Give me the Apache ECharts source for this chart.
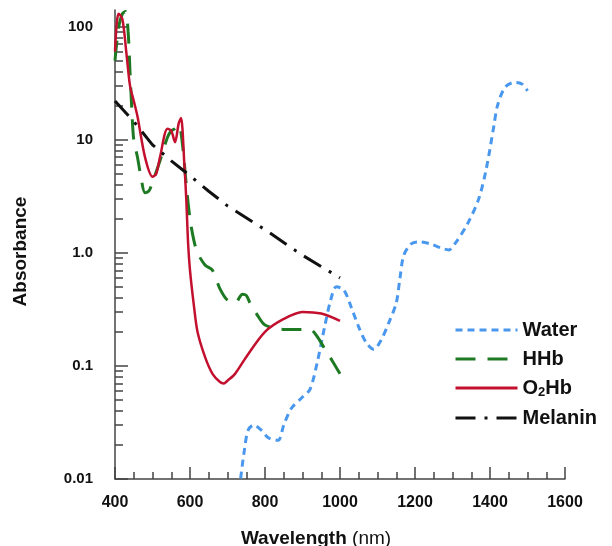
<!DOCTYPE html>
<html>
<head>
<meta charset="utf-8">
<script src="https://cdn.jsdelivr.net/npm/echarts@6/dist/echarts.min.js"></script>
<style>
  * { margin: 0; padding: 0; }
  body { background: #fff; }
  #main { width: 612px; height: 546px; }
</style>
</head>
<body>
<div id="main"></div>
<script>
// absorbance spectra (wavelength nm -> absorbance)
var waterWl = [735, 745, 755, 770, 790, 810, 835, 850, 870, 900, 920, 940, 960, 975, 990, 1010, 1030, 1050, 1070, 1090, 1110, 1130, 1150, 1160, 1170, 1190, 1210, 1240, 1270, 1290, 1310, 1340, 1370, 1390, 1410, 1420, 1440, 1465, 1485, 1500];
var waterVal = [0.0101, 0.018, 0.027, 0.030, 0.027, 0.023, 0.022, 0.030, 0.042, 0.053, 0.062, 0.11, 0.23, 0.38, 0.50, 0.47, 0.33, 0.22, 0.16, 0.14, 0.17, 0.24, 0.36, 0.6, 0.95, 1.2, 1.25, 1.2, 1.1, 1.06, 1.25, 1.8, 3.0, 5.5, 13, 20, 29, 32, 31, 27];

var hhbWl = [400, 410, 420, 428, 435, 440, 445, 450, 460, 470, 480, 490, 500, 520, 540, 550, 560, 570, 580, 590, 600, 610, 620, 640, 660, 680, 700, 720, 740, 750, 760, 780, 800, 850, 900, 920, 940, 960, 980, 1000];
var hhbVal = [50, 100, 130, 136, 90, 40, 18, 10, 7, 4.5, 3.4, 3.5, 4.2, 6.5, 10.5, 12, 12.5, 13.5, 9, 4, 2, 1.3, 1.0, 0.78, 0.7, 0.48, 0.38, 0.36, 0.43, 0.42, 0.36, 0.28, 0.23, 0.21, 0.21, 0.21, 0.18, 0.14, 0.11, 0.085];

var o2hbWl = [400, 405, 410, 420, 430, 440, 450, 460, 480, 500, 510, 520, 540, 550, 560, 570, 576, 585, 590, 595, 600, 610, 620, 640, 660, 680, 690, 700, 720, 750, 800, 850, 900, 950, 1000];
var o2hbVal = [60, 110, 130, 115, 60, 30, 22, 16, 7, 4.7, 5, 7, 12.5, 12, 9.5, 14, 15.5, 6, 3, 1.2, 0.7, 0.35, 0.2, 0.12, 0.085, 0.072, 0.07, 0.074, 0.085, 0.12, 0.2, 0.26, 0.3, 0.29, 0.25];

var melaninWl = [400, 450, 500, 550, 600, 650, 700, 800, 900, 1000];
var melaninVal = [22, 14.5, 9, 6.5, 4.8, 3.5, 2.6, 1.6, 0.95, 0.6];

var yTickLabels = ['0.01', '0.1', '1.0', '10', '100'];
var yMinorTicks = [];
[0.01, 0.1, 1, 10].forEach(function (d) {
  for (var k = 2; k <= 9; k++) yMinorTicks.push(+(d * k).toPrecision(3));
});

function zip(xs, ys) {
  return xs.map(function (x, i) { return [x, ys[i]]; });
}

var font = '"Liberation Sans", Arial, sans-serif';
var chart = echarts.init(document.getElementById('main'));
chart.setOption({
  animation: false,
  grid: { left: 115, right: 47, top: 10, bottom: 67, containLabel: false, outerBoundsMode: 'none' },
  legend: {
    orient: 'vertical',
    left: 449,
    top: 315,
    itemWidth: 62,
    itemHeight: 16,
    itemGap: 9,
    data: ['Water', 'HHb', 'O2Hb', 'Melanin'],
    itemStyle: { color: 'rgba(0,0,0,0)', borderWidth: 0, opacity: 0 },
    lineStyle: { width: 3 },
    formatter: function (name) {
      return name === 'O2Hb' ? 'O{sub|2}Hb' : name;
    },
    textStyle: {
      fontFamily: font, fontWeight: 'bold', fontSize: 20, color: '#111',
      rich: {
        sub: { fontFamily: font, fontWeight: 'bold', fontSize: 13, color: '#111', verticalAlign: 'bottom', padding: [9, 0, 0, 0] }
      }
    }
  },
  xAxis: [{
    type: 'value',
    min: 400, max: 1600, interval: 200,
    name: '{b|Wavelength} (nm)',
    nameLocation: 'middle',
    nameGap: 50,
    nameTextStyle: {
      fontFamily: font, fontSize: 19, color: '#111', padding: [0, 48, 0, 0],
      rich: { b: { fontFamily: font, fontWeight: 'bold', fontSize: 19, color: '#111' } }
    },
    axisLine: { lineStyle: { color: '#444', width: 1.5 } },
    axisTick: { inside: true, length: 12, lineStyle: { color: '#444', width: 1.5 } },
    axisLabel: {
      fontFamily: font, fontWeight: 'bold', fontSize: 16, color: '#111', margin: 16,
      formatter: function (v) { return String(v); }
    },
    splitLine: { show: false }
  }, {
    type: 'value',
    position: 'bottom',
    min: 400, max: 1600, interval: 50,
    axisLine: { show: false },
    axisTick: { inside: true, length: 7, lineStyle: { color: '#444', width: 1.5 } },
    axisLabel: { show: false },
    splitLine: { show: false }
  }],
  yAxis: [{
    type: 'log',
    logBase: 10,
    min: 0.01, max: 140,
    name: 'Absorbance',
    nameLocation: 'middle',
    nameGap: 85,
    nameTextStyle: { fontFamily: font, fontWeight: 'bold', fontSize: 19, color: '#111', padding: [0, 14, 0, 0] },
    axisLine: { show: true, lineStyle: { color: '#444', width: 1.5 } },
    axisTick: { inside: true, length: 13, lineStyle: { color: '#444', width: 1.5 } },
    axisLabel: {
      fontFamily: font, fontWeight: 'bold', fontSize: 15, color: '#111', margin: 22,
      showMaxLabel: false,
      formatter: function (v) {
        return yTickLabels[Math.round(Math.log10(v)) + 2];
      }
    },
    splitLine: { show: false }
  }, {
    type: 'log',
    logBase: 10,
    position: 'left',
    min: 0.01, max: 140,
    axisLine: { show: false },
    axisTick: { inside: true, length: 8, customValues: yMinorTicks, lineStyle: { color: '#444', width: 1.5 } },
    axisLabel: { show: false },
    splitLine: { show: false }
  }],
  series: [{
    name: 'Water', type: 'line', symbol: 'none', smooth: 0.3,
    lineStyle: { color: '#4a98ee', width: 3, type: [7, 5] },
    itemStyle: { color: '#4a98ee' },
    data: zip(waterWl, waterVal), z: 2
  }, {
    name: 'HHb', type: 'line', symbol: 'none', smooth: 0.3,
    lineStyle: { color: '#1e7a22', width: 3, type: [20, 12] },
    itemStyle: { color: '#1e7a22' },
    data: zip(hhbWl, hhbVal), z: 3
  }, {
    name: 'O2Hb', type: 'line', symbol: 'none', smooth: 0.3,
    lineStyle: { color: '#c3102f', width: 2.5 },
    itemStyle: { color: '#c3102f' },
    data: zip(o2hbWl, o2hbVal), z: 4
  }, {
    name: 'Melanin', type: 'line', symbol: 'none',
    lineStyle: { color: '#111', width: 3, type: [20, 9, 3, 9] },
    itemStyle: { color: '#111' },
    data: zip(melaninWl, melaninVal), z: 5
  }]
});
</script>
</body>
</html>
